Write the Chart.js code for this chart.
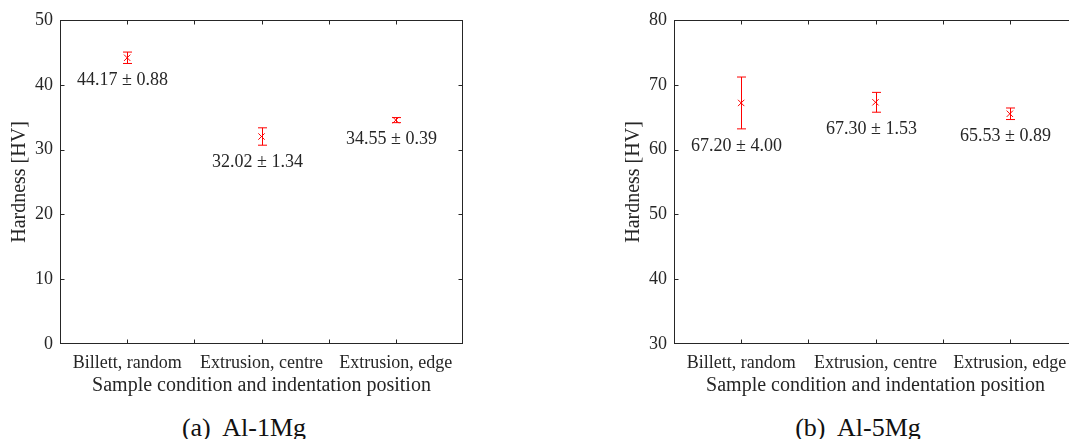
<!DOCTYPE html>
<html>
<head>
<meta charset="utf-8">
<script src="https://cdn.jsdelivr.net/npm/chart.js@4.4.1/dist/chart.umd.min.js"></script>
<style>
  html, body { margin: 0; padding: 0; background: #fff; overflow: hidden; width: 1069px; height: 439px; }
  .panel { position: absolute; top: 0; }
  .caption {
    position: absolute; top: 428px; transform: translate(-50%, -50%);
    font-family: "Liberation Serif", serif; font-size: 26px; color: #111; white-space: pre;
  }
</style>
</head>
<body>
<div class="panel" style="left:0"><canvas id="al1" width="535" height="400"></canvas></div>
<div class="panel" style="left:614px"><canvas id="al5" width="535" height="400"></canvas></div>
<div class="caption" style="left:244px">(a)  Al-1Mg</div>
<div class="caption" style="left:858px">(b)  Al-5Mg</div>

<script>
const categories = ['Billett, random', 'Extrusion, centre', 'Extrusion, edge'];

// Al-1Mg hardness, mean and standard deviation
const al1Mean = [44.17, 32.02, 34.55];
const al1Std = [0.88, 1.34, 0.39];
const al1Range = [0, 50];

// Al-5Mg hardness, mean and standard deviation
const al5Mean = [67.20, 67.30, 65.53];
const al5Std = [4.00, 1.53, 0.89];
const al5Range = [30, 80];

const TEXT = '#262626';
Chart.defaults.font.family = '"Liberation Serif", "Times New Roman", serif';
Chart.defaults.font.size = 18;
Chart.defaults.color = TEXT;

// blank slots between categories, so the axis runs 0..6 with groups on 1, 3, 5
const xLabels = [''];
categories.forEach(c => xLabels.push(c, ''));

// error bars plus "mean ± sd" text under each one
const errorBars = {
  id: 'errorBars',
  afterDatasetsDraw(chart) {
    const { ctx, scales: { y } } = chart;
    const ds = chart.data.datasets[0];
    const pts = chart.getDatasetMeta(0).data;
    ctx.save();
    ds.data.forEach((p, i) => {
      const sd = ds.std[i];
      const px = Math.round(pts[i].x) + 0.5;
      const top = y.getPixelForValue(p.y + sd);
      const bot = y.getPixelForValue(p.y - sd);
      ctx.strokeStyle = '#ff0000';
      ctx.lineWidth = 1;
      ctx.beginPath();
      ctx.moveTo(px, top); ctx.lineTo(px, bot);
      ctx.moveTo(px - 4.5, top); ctx.lineTo(px + 4.5, top);
      ctx.moveTo(px - 4.5, bot); ctx.lineTo(px + 4.5, bot);
      ctx.stroke();

      ctx.fillStyle = TEXT;
      ctx.font = '18px "Liberation Serif", serif';
      ctx.textAlign = 'center';
      ctx.textBaseline = 'middle';
      ctx.fillText(`${p.y.toFixed(2)} \u00b1 ${sd.toFixed(2)}`, px - 5, bot + 17);
    });
    ctx.restore();
  }
};

// full box around the plot with inward tick marks on all four sides
const boxTicks = {
  id: 'boxTicks',
  afterDraw(chart) {
    const { ctx, chartArea: a, scales: { x, y } } = chart;
    const L = Math.round(a.left) + 0.5, R = Math.round(a.right) - 0.5;
    const T = Math.round(a.top) + 0.5, B = Math.round(a.bottom) - 0.5;
    ctx.save();
    ctx.strokeStyle = TEXT;
    ctx.lineWidth = 1;
    ctx.strokeRect(L, T, R - L, B - T);
    ctx.beginPath();
    for (let i = 1; i < xLabels.length - 1; i++) {
      const px = Math.round(x.getPixelForTick(i)) + 0.5;
      ctx.moveTo(px, B); ctx.lineTo(px, B - 4);
      ctx.moveTo(px, T); ctx.lineTo(px, T + 4);
    }
    for (let i = 1; i < y.ticks.length - 1; i++) {
      const py = Math.round(y.getPixelForTick(i)) + 0.5;
      ctx.moveTo(L, py); ctx.lineTo(L + 4, py);
      ctx.moveTo(R, py); ctx.lineTo(R - 4, py);
    }
    ctx.stroke();
    ctx.restore();
  }
};

function drawHardness(id, means, stds, range) {
  new Chart(document.getElementById(id), {
    type: 'scatter',
    data: {
      labels: xLabels,
      datasets: [{
        data: categories.map((c, i) => ({ x: c, y: means[i] })),
        std: stds,
        pointStyle: 'crossRot',
        pointRadius: 4.5,
        borderColor: '#ff0000',
        borderWidth: 1,
        showLine: false
      }]
    },
    options: {
      responsive: false,
      animation: false,
      devicePixelRatio: 1,
      layout: { padding: { top: 20, right: 72, left: 0, bottom: 0 } },
      plugins: { legend: { display: false }, tooltip: { enabled: false } },
      scales: {
        x: {
          type: 'category',
          offset: false,
          grid: { display: false, drawTicks: false },
          border: { display: false },
          ticks: { padding: 8, maxRotation: 0, autoSkip: false, color: TEXT },
          title: {
            display: true, text: 'Sample condition and indentation position', color: TEXT,
            font: { size: 20 }, padding: { top: 0, bottom: 2 }
          },
          afterFit: s => { s.height = 56; }
        },
        y: {
          min: range[0],
          max: range[1],
          grid: { display: false, drawTicks: false },
          border: { display: false },
          ticks: { stepSize: 10, padding: 7, color: TEXT },
          title: {
            display: true, text: 'Hardness [HV]', color: TEXT,
            font: { size: 20 }, padding: { top: 8, bottom: 0 }
          },
          afterFit: s => { s.width = 60; }
        }
      }
    },
    plugins: [errorBars, boxTicks]
  });
}

drawHardness('al1', al1Mean, al1Std, al1Range);
drawHardness('al5', al5Mean, al5Std, al5Range);
</script>
</body>
</html>
